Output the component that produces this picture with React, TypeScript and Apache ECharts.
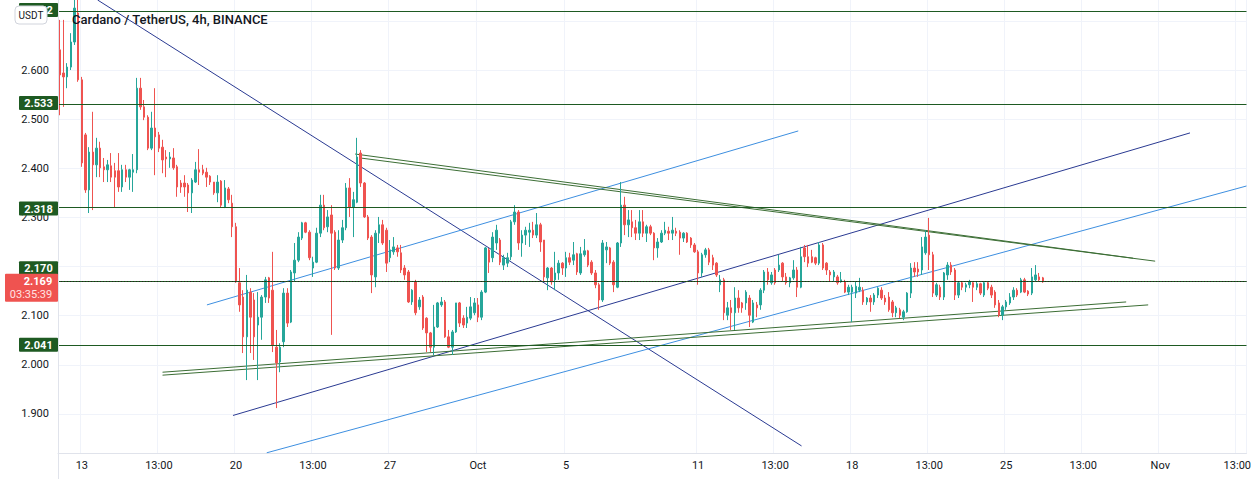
import React, { useEffect, useRef } from "react";
import * as echarts from "echarts";

// ---- OHLC candles, 4h, [open, close, low, high] ----
const sep12to18 = [
  [2.641, 2.590, 2.508, 2.702], [2.594, 2.586, 2.525, 2.702], [2.586, 2.606, 2.563, 2.614], [2.606, 2.657, 2.600, 2.675],
  [2.657, 2.726, 2.651, 2.748], [2.716, 2.580, 2.576, 2.745], [2.580, 2.411, 2.403, 2.586], [2.468, 2.356, 2.350, 2.472],
  [2.356, 2.433, 2.309, 2.443], [2.433, 2.407, 2.315, 2.515], [2.407, 2.441, 2.382, 2.462], [2.441, 2.401, 2.382, 2.454],
  [2.403, 2.397, 2.372, 2.421], [2.397, 2.407, 2.372, 2.417], [2.405, 2.382, 2.372, 2.431], [2.395, 2.382, 2.321, 2.411],
  [2.395, 2.362, 2.352, 2.431], [2.362, 2.397, 2.352, 2.407], [2.397, 2.382, 2.372, 2.407], [2.382, 2.397, 2.356, 2.399],
  [2.392, 2.397, 2.352, 2.429], [2.397, 2.563, 2.390, 2.584], [2.563, 2.525, 2.519, 2.584], [2.525, 2.504, 2.498, 2.539],
  [2.504, 2.441, 2.437, 2.508], [2.441, 2.482, 2.437, 2.515], [2.482, 2.464, 2.386, 2.563], [2.468, 2.441, 2.433, 2.474],
  [2.443, 2.417, 2.390, 2.458], [2.423, 2.419, 2.382, 2.437], [2.419, 2.423, 2.401, 2.433], [2.421, 2.401, 2.397, 2.441],
  [2.403, 2.362, 2.342, 2.407], [2.370, 2.362, 2.350, 2.376], [2.370, 2.362, 2.342, 2.386], [2.366, 2.350, 2.311, 2.370],
  [2.350, 2.376, 2.309, 2.380], [2.372, 2.397, 2.370, 2.413], [2.397, 2.392, 2.366, 2.439], [2.397, 2.390, 2.386, 2.407],
  [2.392, 2.382, 2.362, 2.401], [2.384, 2.372, 2.366, 2.386],
];
const sep19to25 = [
  [2.372, 2.350, 2.346, 2.372], [2.350, 2.372, 2.331, 2.386], [2.374, 2.325, 2.321, 2.376], [2.321, 2.360, 2.319, 2.376],
  [2.358, 2.336, 2.329, 2.362], [2.329, 2.281, 2.260, 2.346], [2.281, 2.169, 2.167, 2.289], [2.167, 2.122, 2.108, 2.197],
  [2.138, 2.057, 2.024, 2.152], [2.057, 2.152, 1.969, 2.183], [2.148, 2.097, 2.024, 2.156], [2.132, 2.057, 2.010, 2.146],
  [2.081, 2.097, 1.969, 2.148], [2.097, 2.138, 2.051, 2.142], [2.138, 2.173, 2.126, 2.179], [2.177, 2.136, 2.126, 2.179],
  [2.152, 2.040, 2.026, 2.230], [2.036, 2.004, 1.912, 2.071], [2.006, 2.036, 1.985, 2.044], [2.047, 2.146, 2.036, 2.156],
  [2.146, 2.085, 2.077, 2.156], [2.087, 2.189, 2.085, 2.193], [2.187, 2.213, 2.169, 2.248], [2.213, 2.260, 2.209, 2.270],
  [2.258, 2.289, 2.254, 2.291], [2.289, 2.270, 2.268, 2.291], [2.270, 2.218, 2.213, 2.274], [2.197, 2.209, 2.179, 2.220],
  [2.209, 2.268, 2.207, 2.279], [2.268, 2.325, 2.260, 2.346], [2.325, 2.279, 2.274, 2.346], [2.281, 2.301, 2.270, 2.315],
  [2.305, 2.268, 2.061, 2.325], [2.270, 2.197, 2.193, 2.274], [2.197, 2.254, 2.193, 2.274], [2.254, 2.279, 2.248, 2.295],
  [2.279, 2.360, 2.274, 2.370], [2.360, 2.321, 2.301, 2.380], [2.321, 2.336, 2.260, 2.352], [2.331, 2.423, 2.329, 2.462],
  [2.431, 2.370, 2.362, 2.437], [2.370, 2.301, 2.299, 2.372],
];
const sep26toOct2 = [
  [2.301, 2.258, 2.254, 2.305], [2.260, 2.183, 2.146, 2.264], [2.179, 2.268, 2.158, 2.274], [2.268, 2.285, 2.248, 2.301],
  [2.285, 2.248, 2.244, 2.295], [2.274, 2.207, 2.189, 2.279], [2.218, 2.234, 2.209, 2.254], [2.230, 2.240, 2.224, 2.260],
  [2.238, 2.230, 2.220, 2.244], [2.228, 2.193, 2.187, 2.244], [2.197, 2.183, 2.173, 2.203], [2.189, 2.128, 2.126, 2.193],
  [2.128, 2.152, 2.122, 2.154], [2.169, 2.106, 2.101, 2.173], [2.118, 2.132, 2.112, 2.138], [2.138, 2.075, 2.071, 2.142],
  [2.095, 2.065, 2.026, 2.097], [2.065, 2.036, 2.026, 2.067], [2.036, 2.077, 2.020, 2.122], [2.077, 2.126, 2.075, 2.128],
  [2.122, 2.128, 2.118, 2.138], [2.128, 2.057, 2.055, 2.132], [2.057, 2.036, 2.034, 2.071], [2.036, 2.067, 2.020, 2.071],
  [2.067, 2.126, 2.065, 2.126], [2.126, 2.085, 2.077, 2.128], [2.095, 2.081, 2.075, 2.101], [2.085, 2.097, 2.075, 2.118],
  [2.095, 2.118, 2.091, 2.138], [2.106, 2.126, 2.101, 2.136], [2.122, 2.097, 2.087, 2.136], [2.097, 2.148, 2.091, 2.152],
  [2.148, 2.238, 2.146, 2.240], [2.234, 2.209, 2.187, 2.238], [2.218, 2.260, 2.209, 2.270], [2.248, 2.274, 2.234, 2.285],
  [2.254, 2.209, 2.203, 2.258], [2.203, 2.218, 2.193, 2.224], [2.207, 2.218, 2.199, 2.228], [2.220, 2.291, 2.213, 2.295],
  [2.291, 2.311, 2.285, 2.325], [2.311, 2.248, 2.234, 2.315],
];
const oct3to9 = [
  [2.248, 2.264, 2.220, 2.274], [2.264, 2.274, 2.244, 2.281], [2.270, 2.274, 2.240, 2.289], [2.274, 2.264, 2.258, 2.291],
  [2.264, 2.285, 2.258, 2.309], [2.285, 2.250, 2.230, 2.289], [2.254, 2.179, 2.169, 2.254], [2.177, 2.197, 2.152, 2.199],
  [2.197, 2.169, 2.163, 2.199], [2.173, 2.187, 2.152, 2.230], [2.187, 2.207, 2.173, 2.213], [2.207, 2.197, 2.183, 2.209],
  [2.197, 2.218, 2.179, 2.230], [2.218, 2.209, 2.203, 2.228], [2.213, 2.224, 2.203, 2.250], [2.226, 2.189, 2.183, 2.228],
  [2.187, 2.226, 2.183, 2.240], [2.224, 2.232, 2.220, 2.256], [2.232, 2.203, 2.199, 2.234], [2.209, 2.187, 2.183, 2.213],
  [2.187, 2.163, 2.156, 2.193], [2.163, 2.132, 2.112, 2.167], [2.132, 2.248, 2.128, 2.254], [2.234, 2.240, 2.207, 2.250],
  [2.238, 2.207, 2.203, 2.240], [2.209, 2.163, 2.148, 2.213], [2.158, 2.248, 2.156, 2.250], [2.248, 2.325, 2.240, 2.372],
  [2.325, 2.285, 2.264, 2.342], [2.285, 2.295, 2.260, 2.315], [2.291, 2.279, 2.260, 2.315], [2.279, 2.268, 2.254, 2.295],
  [2.268, 2.291, 2.254, 2.315], [2.291, 2.268, 2.260, 2.315], [2.268, 2.281, 2.250, 2.285], [2.281, 2.268, 2.264, 2.285],
  [2.268, 2.238, 2.213, 2.270], [2.238, 2.250, 2.218, 2.258], [2.250, 2.268, 2.248, 2.274], [2.268, 2.274, 2.264, 2.291],
  [2.272, 2.268, 2.254, 2.281], [2.268, 2.274, 2.254, 2.301],
];
const oct10to16 = [
  [2.272, 2.268, 2.262, 2.279], [2.270, 2.258, 2.224, 2.274], [2.258, 2.268, 2.250, 2.270], [2.268, 2.250, 2.248, 2.270],
  [2.258, 2.244, 2.238, 2.260], [2.244, 2.230, 2.228, 2.248], [2.230, 2.187, 2.163, 2.234], [2.187, 2.224, 2.179, 2.228],
  [2.224, 2.234, 2.218, 2.238], [2.234, 2.209, 2.203, 2.238], [2.218, 2.203, 2.193, 2.224], [2.207, 2.183, 2.179, 2.209],
  [2.163, 2.173, 2.148, 2.183], [2.173, 2.106, 2.091, 2.177], [2.101, 2.116, 2.091, 2.128], [2.116, 2.106, 2.071, 2.132],
  [2.106, 2.136, 2.071, 2.158], [2.136, 2.116, 2.106, 2.152], [2.126, 2.116, 2.106, 2.128], [2.126, 2.148, 2.112, 2.152],
  [2.136, 2.101, 2.077, 2.142], [2.087, 2.126, 2.085, 2.132], [2.122, 2.116, 2.097, 2.128], [2.122, 2.152, 2.112, 2.156],
  [2.152, 2.189, 2.146, 2.193], [2.189, 2.173, 2.163, 2.197], [2.167, 2.183, 2.163, 2.189], [2.193, 2.167, 2.163, 2.197],
  [2.193, 2.203, 2.189, 2.224], [2.207, 2.179, 2.169, 2.209], [2.179, 2.167, 2.163, 2.187], [2.167, 2.177, 2.158, 2.179],
  [2.177, 2.193, 2.173, 2.213], [2.193, 2.158, 2.138, 2.199], [2.158, 2.220, 2.156, 2.240], [2.238, 2.220, 2.209, 2.244],
  [2.220, 2.207, 2.199, 2.244], [2.220, 2.209, 2.207, 2.234], [2.218, 2.207, 2.203, 2.220], [2.207, 2.244, 2.203, 2.250],
  [2.244, 2.197, 2.193, 2.248], [2.207, 2.193, 2.183, 2.209],
];
const oct17to23 = [
  [2.189, 2.183, 2.169, 2.193], [2.179, 2.189, 2.169, 2.193], [2.179, 2.167, 2.163, 2.183], [2.169, 2.173, 2.167, 2.189],
  [2.169, 2.148, 2.146, 2.173], [2.148, 2.158, 2.142, 2.163], [2.148, 2.158, 2.087, 2.163], [2.146, 2.160, 2.136, 2.169],
  [2.152, 2.158, 2.148, 2.177], [2.152, 2.128, 2.122, 2.158], [2.128, 2.136, 2.122, 2.138], [2.136, 2.128, 2.108, 2.142],
  [2.128, 2.142, 2.122, 2.146], [2.142, 2.156, 2.136, 2.158], [2.152, 2.136, 2.132, 2.158], [2.136, 2.128, 2.122, 2.142],
  [2.138, 2.112, 2.108, 2.148], [2.128, 2.106, 2.097, 2.132], [2.106, 2.116, 2.097, 2.120], [2.112, 2.101, 2.095, 2.116],
  [2.097, 2.108, 2.091, 2.112], [2.108, 2.146, 2.106, 2.148], [2.146, 2.197, 2.136, 2.207], [2.197, 2.189, 2.179, 2.209],
  [2.195, 2.189, 2.179, 2.209], [2.193, 2.240, 2.183, 2.260], [2.228, 2.260, 2.224, 2.274], [2.264, 2.224, 2.193, 2.299],
  [2.224, 2.146, 2.138, 2.230], [2.142, 2.163, 2.138, 2.167], [2.158, 2.138, 2.132, 2.163], [2.138, 2.187, 2.132, 2.189],
  [2.183, 2.203, 2.173, 2.209], [2.203, 2.189, 2.183, 2.209], [2.193, 2.142, 2.132, 2.197], [2.142, 2.167, 2.136, 2.169],
  [2.167, 2.158, 2.152, 2.169], [2.158, 2.163, 2.148, 2.167], [2.163, 2.169, 2.156, 2.173], [2.167, 2.158, 2.128, 2.169],
  [2.158, 2.165, 2.152, 2.169], [2.165, 2.146, 2.142, 2.167],
];
const oct24to26 = [
  [2.142, 2.167, 2.138, 2.169], [2.167, 2.156, 2.152, 2.169], [2.158, 2.142, 2.136, 2.163], [2.148, 2.122, 2.116, 2.152],
  [2.126, 2.101, 2.097, 2.132], [2.101, 2.118, 2.091, 2.122], [2.118, 2.128, 2.112, 2.132], [2.126, 2.138, 2.122, 2.146],
  [2.138, 2.152, 2.132, 2.158], [2.152, 2.142, 2.138, 2.156], [2.148, 2.173, 2.146, 2.177], [2.173, 2.148, 2.146, 2.177],
  [2.150, 2.144, 2.140, 2.152], [2.146, 2.179, 2.142, 2.197], [2.173, 2.183, 2.169, 2.203], [2.179, 2.173, 2.169, 2.187],
  [2.177, 2.169, 2.167, 2.179],
];

// ---- axes ----
const startTimeUTC = Date.UTC(2021, 8, 12, 0, 0);
const categoryCount = 324; // 4h slots shown, Sep 12 -> Nov 4
const xTickIndex = [6, 27, 48, 69, 90, 114, 138, 174, 195, 216, 237, 258, 279, 300, 321];
const xTickText = ["13", "13:00", "20", "13:00", "27", "Oct", "5", "11", "13:00", "18", "13:00", "25", "13:00", "Nov", "13:00"];
// 2.200 and 2.700 are covered by badges on the price scale
const yTickLabels = [1.9, 2.0, 2.1, 2.3, 2.4, 2.5, 2.6];
const yGrid = [1.9, 2.0, 2.1, 2.2, 2.3, 2.4, 2.5, 2.6, 2.7];
const yMin = 1.8206;
const yMax = 2.7425;

// ---- horizontal levels & price ----
const levelValues = [2.722, 2.533, 2.318, 2.17, 2.041];
const lastPrice = 2.169;
const countdown = "03:35:39";

// ---- drawn trend lines: [[slotIndex, price], [slotIndex, price]] ----
const navyDown = [[10.3, 2.7425], [202.2, 1.835]];
const navyUp = [[47.2, 1.897], [308.1, 2.472]];
const blueUpper = [[40.1, 2.122], [201.3, 2.476]];
const blueLower = [[56.4, 1.821], [323.5, 2.364]];
const greenTop1 = [[80.5, 2.429], [292.6, 2.217]];
const greenTop2 = [[81.9, 2.421], [298.6, 2.211]];
const greenBottom1 = [[28.0, 1.985], [290.7, 2.128]];
const greenBottom2 = [[28.0, 1.979], [296.7, 2.122]];

const GREEN = "#26a69a";
const RED = "#ef5350";
const LEVEL = "#1e5a22";
const NAVY = "#2a3a92";
const BLUE = "#3d8fe0";
const DOUBLE = "#3c6e35";
const FONT = "Roboto, 'Liberation Sans', sans-serif";

export default function App() {
  const ref = useRef<HTMLDivElement | null>(null);

  useEffect(() => {
    if (!ref.current) return;
    const chart = echarts.init(ref.current, undefined, { renderer: "svg" });

    const candles = [
      ...sep12to18, ...sep19to25, ...sep26toOct2, ...oct3to9, ...oct10to16, ...oct17to23, ...oct24to26,
    ];
    const categories = Array.from({ length: categoryCount }, (_, i) =>
      new Date(startTimeUTC + i * 4 * 3600 * 1000).toISOString().slice(0, 16)
    );
    const isTick = (i: number) => xTickIndex.indexOf(i) >= 0;

    const trend = (data: number[][], color: string) => ({
      type: "line",
      xAxisIndex: 1,
      yAxisIndex: 0,
      data,
      showSymbol: false,
      symbol: "none",
      silent: true,
      clip: true,
      lineStyle: { color, width: 1 },
      z: 3,
    });

    chart.setOption({
      animation: false,
      backgroundColor: "#ffffff",
      title: {
        text: "Cardano / TetherUS, 4h, BINANCE",
        left: 67,
        top: 8,
        textStyle: { fontSize: 13, fontWeight: 500, color: "#131722", fontFamily: FONT },
      },
      grid: { left: 58, right: 0, top: 0, bottom: 26 },
      xAxis: [
        {
          type: "category",
          data: categories,
          boundaryGap: true,
          axisLine: { show: true, lineStyle: { color: "#e0e3eb" } },
          axisTick: { show: false },
          axisLabel: {
            interval: (i: number) => isTick(i),
            formatter: (_v: string, i: number) => {
              const k = xTickIndex.indexOf(i);
              return k >= 0 ? xTickText[k] : "";
            },
            color: "#131722",
            fontSize: 11,
            fontFamily: FONT,
            margin: 7,
          },
          splitLine: { show: true, interval: (i: number) => isTick(i), lineStyle: { color: "#f0f3fa" } },
        },
        { type: "value", min: -0.5, max: categoryCount - 0.5, show: false },
      ],
      yAxis: {
        type: "value",
        position: "left",
        min: yMin,
        max: yMax,
        axisLine: { show: false },
        axisTick: { show: false, customValues: yGrid },
        axisLabel: {
          customValues: yTickLabels,
          formatter: (v: number) => v.toFixed(3),
          color: "#131722",
          fontSize: 11,
          fontFamily: FONT,
          margin: 9,
        },
        splitLine: { show: true, lineStyle: { color: "#f0f3fa" } },
      },
      series: [
        {
          type: "candlestick",
          data: candles,
          barWidth: 2,
          itemStyle: {
            color: GREEN,
            color0: RED,
            borderColor: GREEN,
            borderColor0: RED,
            borderWidth: 1,
          },
          z: 4,
          markLine: {
            silent: true,
            symbol: ["none", "none"],
            label: { show: false },
            lineStyle: { color: LEVEL, width: 1, type: "solid" },
            data: [
              ...levelValues.map((v) => ({ yAxis: v })),
              { yAxis: lastPrice, lineStyle: { color: "#2a1f1f", width: 1, type: [1, 2] } },
            ],
          },
        },
        trend(navyDown, NAVY),
        trend(navyUp, NAVY),
        trend(blueUpper, BLUE),
        trend(blueLower, BLUE),
        trend(greenTop1, DOUBLE),
        trend(greenTop2, DOUBLE),
        trend(greenBottom1, DOUBLE),
        trend(greenBottom2, DOUBLE),
      ],
    });

    // price-scale badges, positioned through the y scale
    const py = (v: number) => chart.convertToPixel({ yAxisIndex: 0 }, v) as number;
    const badges: any[] = [];
    levelValues.forEach((v) => {
      let cy = py(v);
      if (Math.abs(v - lastPrice) < 0.005) cy -= 13;
      badges.push({
        type: "rect",
        shape: { x: 19, y: cy - 7, width: 39, height: 14, r: 1 },
        style: { fill: LEVEL },
        z: 100,
      });
      badges.push({
        type: "text",
        style: {
          text: v.toFixed(3),
          x: 38.5,
          y: cy + 0.5,
          align: "center",
          verticalAlign: "middle",
          fill: "#ffffff",
          font: `bold 11px ${FONT}`,
        },
        z: 101,
      });
    });
    const lp = py(lastPrice);
    badges.push({
      type: "rect",
      shape: { x: 5, y: lp - 8, width: 53, height: 28, r: 1 },
      style: { fill: RED },
      z: 100,
    });
    badges.push({
      type: "text",
      style: { text: lastPrice.toFixed(3), x: 38, y: lp, align: "center", verticalAlign: "middle", fill: "#ffffff", font: `bold 11px ${FONT}` },
      z: 101,
    });
    badges.push({
      type: "text",
      style: { text: countdown, x: 31, y: lp + 13, align: "center", verticalAlign: "middle", fill: "#ffe3e3", font: `11px ${FONT}` },
      z: 101,
    });
    // price scale border
    badges.push({
      type: "line",
      shape: { x1: 58.5, y1: 0, x2: 58.5, y2: 479 },
      style: { stroke: "#e0e3eb", lineWidth: 1 },
      z: 90,
    });
    // currency badge
    badges.push({
      type: "rect",
      shape: { x: 15, y: 6, width: 32, height: 18, r: 4 },
      style: { fill: "#ffffff", stroke: "#d1d4dc", lineWidth: 1 },
      z: 110,
    });
    badges.push({
      type: "text",
      style: { text: "USDT", x: 31, y: 15.5, align: "center", verticalAlign: "middle", fill: "#131722", font: `10px ${FONT}` },
      z: 111,
    });
    chart.setOption({ graphic: badges });

    return () => chart.dispose();
  }, []);

  return (
    <div
      ref={ref}
      style={{ position: "fixed", left: 0, top: 0, width: 1254, height: 479, background: "#ffffff" }}
    />
  );
}
